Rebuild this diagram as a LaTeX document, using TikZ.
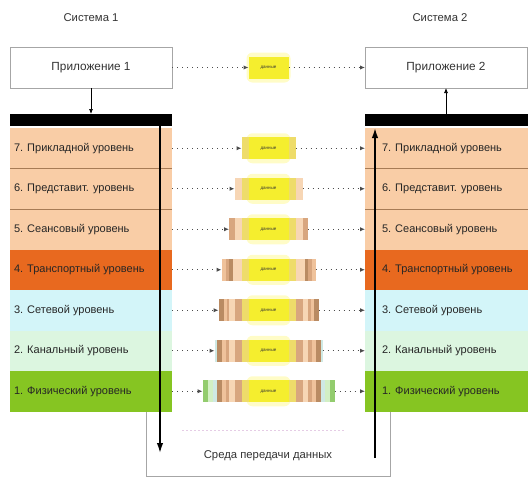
\documentclass[tikz,border=0pt]{standalone}
\usepackage{fontspec}
\setmainfont{Liberation Sans}
\usetikzlibrary{arrows.meta}

\definecolor{peach}{HTML}{F9CDA6}
\definecolor{transp}{HTML}{E8691F}
\definecolor{netw}{HTML}{D3F5F9}
\definecolor{chan}{HTML}{DCF6E0}
\definecolor{phys}{HTML}{86C522}
\definecolor{sepline}{HTML}{A77B55}
% packet band colours, outermost first
\definecolor{bA}{HTML}{93CC6E}
\definecolor{bB}{HTML}{D2EFC4}
\definecolor{bC}{HTML}{CFE9E4}
\definecolor{bD}{HTML}{B98B63}
\definecolor{bE}{HTML}{EFC29B}
\definecolor{bF}{HTML}{D8A67F}
\definecolor{bG}{HTML}{F7D6B5}
\definecolor{bH}{HTML}{EEDC6A}
\definecolor{bCore}{HTML}{F5EE2E}

% \packet{name}{y}{half width}{halfwidth/colour list, outer to inner}
\newcommand\packet[4]{%
  \fill[yellow!55, opacity=.4, rounded corners=6pt] (246.5,#2-15) rectangle (290.5,#2+15);
  \foreach \w/\col in {#4} {\fill[\col] (268.5-\w,#2-11) rectangle (268.5+\w,#2+11);}
  \node[pkt, minimum width={2*#3pt}] (#1) at (268.5,#2) {данные};
}

\begin{document}
\begin{tikzpicture}[x=1pt,y=-1pt,
  every node/.style={inner sep=0pt, outer sep=0pt},
  layer/.style={minimum height=40.5pt, draw=none},
  lbl/.style={anchor=west, font=\fontsize{11}{12}\selectfont, text=black!85},
  appbox/.style={draw=gray!70, line width=0.8pt, minimum width=162pt, minimum height=41pt,
    font=\fontsize{11.8}{13}\selectfont, text=black!80},
  head/.style={font=\fontsize{11.3}{13}\selectfont, text=black!80},
  bar/.style={fill=black, minimum height=12pt},
  link/.style={draw=black!70, line width=1.2pt, dash pattern=on 1.3pt off 3.7pt,
    -{Latex[length=5pt,width=4.5pt]}},
  flow/.style={draw=black, line width=1.6pt, -{Latex[length=10pt,width=6.5pt]}},
  pkt/.style={minimum height=22pt, font=\fontsize{4.5}{5}\selectfont, text=black!80},
  small/.style={draw=black, line width=0.7pt, -{Latex[length=5pt,width=4pt]}},
  frame/.style={draw=gray!70, line width=0.8pt},
]
\useasboundingbox (0,0) rectangle (528,483);

% system titles and applications
\node[head] (sys1) at (91,18) {Система 1};
\node[head] (sys2) at (440,18) {Система 2};
\node[appbox] (app1) at (91,67.5) {Приложение 1};
\node[appbox] (app2) at (446,67.5) {Приложение 2};

% thick bars on top of the stacks
\node[bar, minimum width=162pt] (bar1) at (91,120) {};
\node[bar, minimum width=163pt] (bar2) at (446.5,120) {};
\draw[small] (app1.south) -- (app1.south |- bar1.north);
\draw[small] (app2.south |- bar2.north) -- (app2.south);

% the seven layers on both systems
\foreach \k/\y/\col/\t in {
  7/148.25/peach/{7. Прикладной уровень},
  6/188.75/peach/{6. Представит. уровень},
  5/229.25/peach/{5. Сеансовый уровень},
  4/269.75/transp/{4. Транспортный уровень},
  3/310.25/netw/{3. Сетевой уровень},
  2/350.75/chan/{2. Канальный уровень},
  1/391.25/phys/{1. Физический уровень}} {
  \node[layer, fill=\col, minimum width=162pt] (l\k) at (91,\y) {};
  \node[layer, fill=\col, minimum width=163pt] (r\k) at (446.5,\y) {};
  \node[lbl] (lt\k) at (14,\y) {\t};
  \node[lbl] (rt\k) at (382,\y) {\t};
}
\foreach \k in {7,6} {
  \draw[sepline, line width=0.7pt] (l\k.south west) -- (l\k.south east);
  \draw[sepline, line width=0.7pt] (r\k.south west) -- (r\k.south east);
}

% data units on every level
\packet{pa}{67.5}{20}{20/bCore}
\packet{p7}{148.25}{27}{27/bH, 20/bCore}
\packet{p6}{188.75}{34}{34/bG, 27/bH, 20/bCore}
\packet{p5}{229.25}{39.5}{39.5/bF, 34/bG, 27/bH, 20/bCore}
\packet{p4}{269.75}{47}{47/bE, 43/bF, 39.5/bD, 36/bG, 27/bH, 20/bCore}
\packet{p3}{310.25}{50}{50/bD, 45/bE, 42/bF, 39.5/bG, 34/bF, 27/bH, 20/bCore}
\packet{p2}{350.75}{54}{54/bC, 52/bD, 47/bE, 43/bF, 39.5/bG, 34/bF, 27/bH, 20/bCore}
\packet{p1}{391.25}{66}{66/bA, 61/bB, 56/bC, 52/bD, 47/bE, 43/bF, 39.5/bG, 34/bF, 27/bH, 20/bCore}

% peer links
\draw[link] (app1.east) -- (pa.west);
\draw[link] (pa.east) -- (app2.west);
\foreach \k in {7,6,5,4,3,2,1} {
  \draw[link] (l\k.east) -- (p\k.west);
  \draw[link] (p\k.east) -- (r\k.west);
}

% transmission medium
\coordinate (m1) at (146,412);
\coordinate (m2) at (146,476);
\coordinate (m3) at (390,476);
\coordinate (m4) at (390,412);
\draw[frame] (m1) -- (m2) -- (m3) -- (m4);
\node[head] (medium) at (268,456) {Среда передачи данных};
\coordinate (h1) at (182,430);
\coordinate (h2) at (345,430);
\draw[violet!20, line width=1pt, dash pattern=on 2pt off 2pt] (h1) -- (h2);

% data flow down the sender and up the receiver
\coordinate (d1) at (160,114);
\coordinate (d2) at (160,453);
\coordinate (u1) at (375,458);
\coordinate (u2) at (375,128);
\draw[flow] (d1) -- (d2);
\draw[flow] (u1) -- (u2);
\end{tikzpicture}
\end{document}
